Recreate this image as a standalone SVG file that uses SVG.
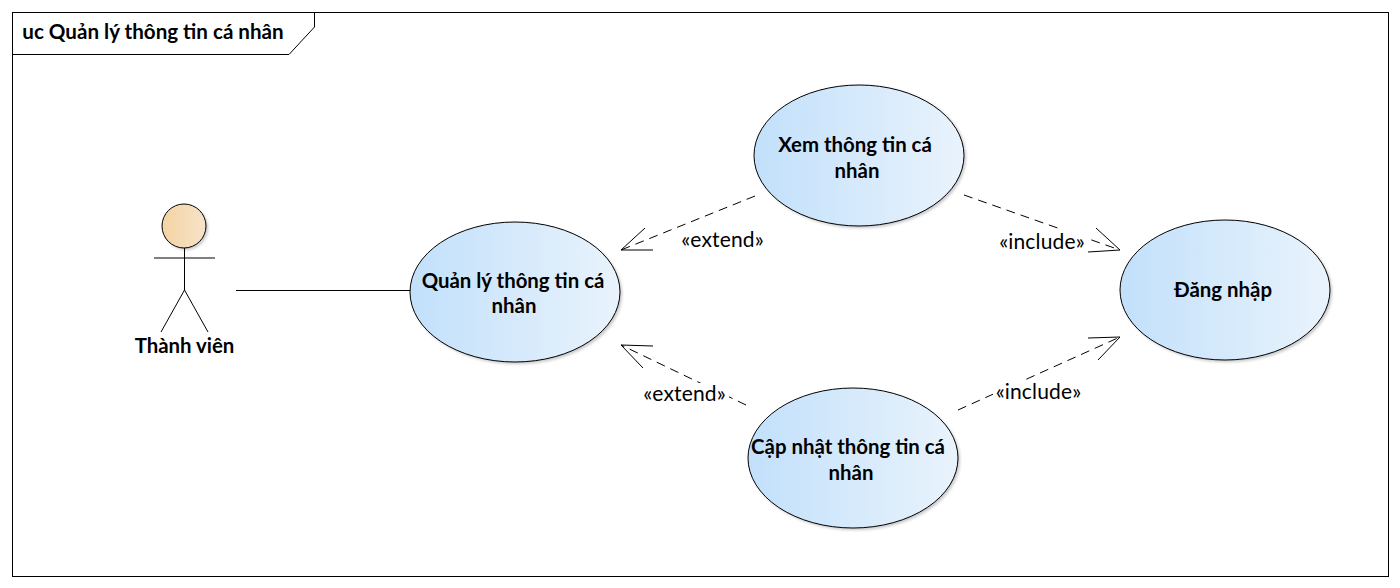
<svg xmlns="http://www.w3.org/2000/svg" width="1400" height="588" viewBox="0 0 1400 588">
<style>
text{font-family:"Lato","Noto Sans",sans-serif;font-weight:700;fill:#000;text-anchor:middle;font-size:20.4px}
.s{font-weight:400;font-size:21px;letter-spacing:.15px}
.l{fill:none;stroke:#000;stroke-width:1}
.d{fill:none;stroke:#000;stroke-width:1;stroke-dasharray:9 6}
.u{fill:url(#ug);stroke:#000;stroke-width:1}
.sh{fill:#000;opacity:.22;filter:url(#bl)}
</style>
<defs>
<linearGradient id="ug"><stop offset="0" stop-color="#c2e0fb"/><stop offset="1" stop-color="#e9f3fc"/></linearGradient>
<linearGradient id="ag"><stop offset="0" stop-color="#f3d3a3"/><stop offset="1" stop-color="#f8e3c8"/></linearGradient>
<filter id="bl" x="-10%" y="-10%" width="120%" height="120%"><feGaussianBlur stdDeviation="1.5"/></filter>
</defs>
<rect width="1400" height="588" fill="#fff"/>
<g id="frame">
<rect class="l" x="12.5" y="12.500" width="1376" height="564"/>
<path class="l" d="M12.500 54.500H289L314.500 27V12.500"/>
<text x="153" y="39" style="font-size:20.6px">uc Quản lý thông tin cá nhân</text>
</g>
<g id="connectors">
<path class="l" d="M236 290.500H411"/>
<path class="d" d="M755 196L621 250"/>
<path class="l" d="M645 228L621 250H653"/>
<path class="d" d="M746 405L621 345"/>
<path class="l" d="M643 368L621 345L653 346"/>
<path class="d" d="M964 195L1120 250"/>
<path class="l" d="M1096 228L1120 250L1088 252"/>
<path class="d" d="M958 410L1120 337"/>
<path class="l" d="M1088 338L1120 337L1098 360"/>
<rect x="641" y="383" width="88" height="24" fill="#fff"/>
<rect x="998" y="229" width="88" height="26" fill="#fff"/>
<rect x="993" y="380" width="90" height="25" fill="#fff"/>
<text class="s" x="722.500" y="247">«extend»</text>
<text class="s" x="684.500" y="401">«extend»</text>
<text class="s" x="1042" y="249">«include»</text>
<text class="s" x="1038.500" y="399">«include»</text>
</g>
<g id="actor">
<circle class="sh" cx="186" cy="228" r="22"/>
<circle cx="184" cy="226" r="22" fill="url(#ag)" stroke="#000" stroke-width="1"/>
<path class="l" d="M154 258H215M184.500 248V290M184.500 290L161 332M184.500 290L208 332"/>
<text x="184.500" y="353">Thành viên</text>
</g>
<g id="uc-quanly">
<ellipse class="sh" cx="517" cy="294" rx="105" ry="70"/>
<ellipse class="u" cx="515" cy="292" rx="105" ry="70"/>
<text x="513" y="287.500">Quản lý thông tin cá</text>
<text x="514" y="313">nhân</text>
</g>
<g id="uc-xem">
<ellipse class="sh" cx="861" cy="157" rx="105" ry="71"/>
<ellipse class="u" cx="859" cy="155.500" rx="105" ry="70.500"/>
<text x="855" y="151.500">Xem thông tin cá</text>
<text x="857" y="177.500">nhân</text>
</g>
<g id="uc-capnhat">
<ellipse class="sh" cx="855" cy="460" rx="105" ry="70"/>
<ellipse class="u" cx="853" cy="458" rx="105" ry="70"/>
<text x="848" y="453.500">Cập nhật thông tin cá</text>
<text x="851" y="479.500">nhân</text>
</g>
<g id="uc-dangnhap">
<ellipse class="sh" cx="1227" cy="292" rx="105" ry="70"/>
<ellipse class="u" cx="1225" cy="290" rx="105" ry="70"/>
<text x="1223" y="297">Đăng nhập</text>
</g>
</svg>
